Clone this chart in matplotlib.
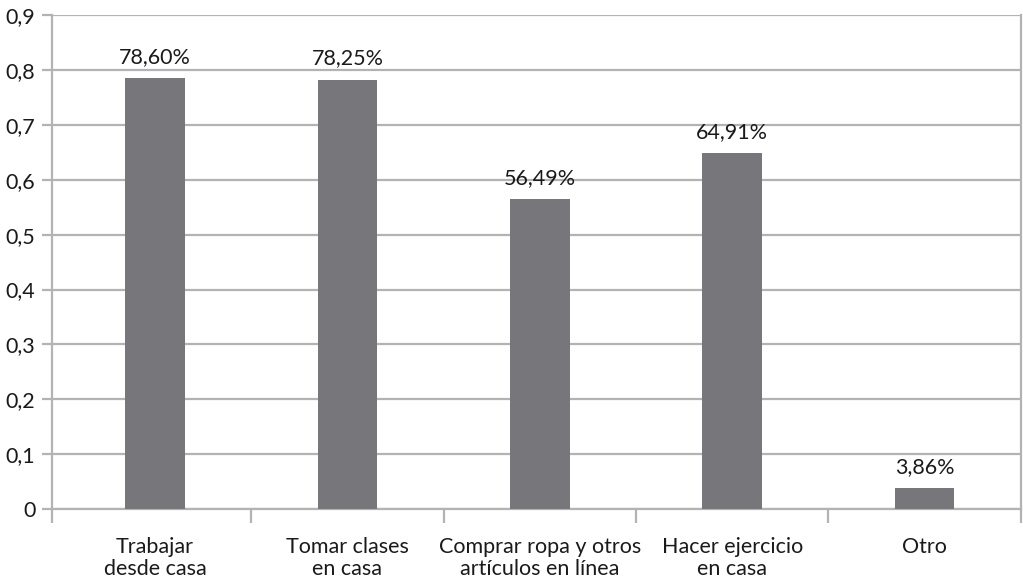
import matplotlib
matplotlib.use("Agg")
import matplotlib.pyplot as plt

categories = ["Trabajar\ndesde casa", "Tomar clases\nen casa",
              "Comprar ropa y otros\nartículos en línea",
              "Hacer ejercicio\nen casa", "Otro"]
shares = [0.7860, 0.7825, 0.5649, 0.6491, 0.0386]
y_ticks = [0.0, 0.1, 0.2, 0.3, 0.4, 0.5, 0.6, 0.7, 0.8, 0.9]

BAR_COLOR = "#77777b"
LINE_COLOR = "#b3b3b6"
TEXT_COLOR = "#1a1a1a"

plt.rcParams["font.family"] = ["Lato", "DejaVu Sans"]
plt.rcParams["font.size"] = 15.5

fig = plt.figure(figsize=(10.23, 5.85), dpi=100)
ax = fig.add_axes([0.0508, 0.130, 0.947, 0.844])

x = list(range(len(categories)))
ax.bar(x, shares, width=0.31, color=BAR_COLOR, zorder=3)

for xi, v in zip(x, shares):
    label = f"{v * 100:.2f}%".replace(".", ",")
    ax.annotate(label, (xi, v), xytext=(0, 8), textcoords="offset points",
                ha="center", va="bottom", color=TEXT_COLOR)

x_left, x_right = -0.536, 4.50
ax.set_xlim(x_left, x_right)
ax.set_ylim(0, 0.9)

ax.set_yticks(y_ticks)
ax.set_yticklabels(["0" if t == 0 else f"{t:.1f}".replace(".", ",") for t in y_ticks])
ax.yaxis.grid(True, color=LINE_COLOR, linewidth=1.6, zorder=0)
ax.tick_params(axis="y", length=7, width=1.6, color=LINE_COLOR,
               labelcolor=TEXT_COLOR, pad=5)

# category labels sit at the centres, tick marks at the boundaries
ax.set_xticks(x)
ax.set_xticklabels(categories, linespacing=1.15)
ax.set_xticks([x_left, 0.5, 1.5, 2.5, 3.5, x_right], minor=True)
ax.tick_params(axis="x", which="major", length=0, pad=20, labelcolor=TEXT_COLOR)
ax.tick_params(axis="x", which="minor", length=10, width=1.6, color=LINE_COLOR)

for side in ["left", "right", "bottom"]:
    ax.spines[side].set_color(LINE_COLOR)
    ax.spines[side].set_linewidth(1.6)
ax.spines["top"].set_visible(False)

fig.savefig("out.png", dpi=100)
